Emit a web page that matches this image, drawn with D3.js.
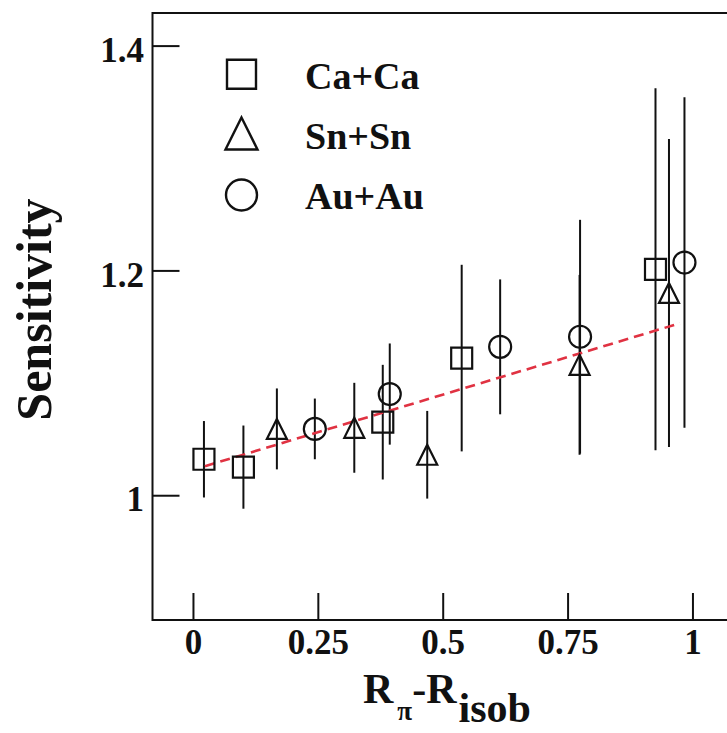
<!DOCTYPE html>
<html>
<head>
<meta charset="utf-8">
<script src="https://cdn.jsdelivr.net/npm/d3@7"></script>
<style>
  html, body { margin: 0; padding: 0; background: #fff; }
  svg { display: block; }
  text { font-family: "Liberation Serif", "Times New Roman", serif; font-weight: bold; fill: #111; }
</style>
</head>
<body>
<svg id="chart" width="727" height="733"></svg>
<script>
// Sensitivity vs R_pi - R_isob for three systems
const caX   = [0.022, 0.101, 0.380, 0.538, 0.926];
const caY   = [1.032, 1.025, 1.065, 1.122, 1.201];
const caErr = [0.034, 0.037, 0.051, 0.083, 0.161];

const snX   = [0.168, 0.323, 0.469, 0.774, 0.953];
const snY   = [1.059, 1.060, 1.036, 1.116, 1.180];
const snErr = [0.036, 0.040, 0.039, 0.080, 0.137];

const auX   = [0.244, 0.394, 0.615, 0.775, 0.984];
const auY   = [1.059, 1.090, 1.132, 1.141, 1.207];
const auErr = [0.027, 0.045, 0.060, 0.104, 0.147];

// linear fit (red dashed)
const fitX = [0.024, 0.975];
const fitY = [1.0258, 1.153];

const xTicks = [0, 0.25, 0.5, 0.75, 1];
const xTickLabels = ["0", "0.25", "0.5", "0.75", "1"];
const yTicks = [1, 1.2, 1.4];
const yTickLabels = ["1", "1.2", "1.4"];

const seriesNames = ["Ca+Ca", "Sn+Sn", "Au+Au"];
const seriesShapes = ["square", "triangle", "circle"];

const svg = d3.select("#chart");

const x = d3.scaleLinear().domain([-0.081, 1.11]).range([152.5, 747.4]);
const y = d3.scaleLinear().domain([0.889, 1.429]).range([620, 13]);

// frame
svg.append("rect")
  .attr("x", x.range()[0]).attr("y", y.range()[1])
  .attr("width", x.range()[1] - x.range()[0])
  .attr("height", y.range()[0] - y.range()[1])
  .attr("fill", "none").attr("stroke", "#111").attr("stroke-width", 2);

// axes with inward ticks
const xAxis = d3.axisBottom(x).tickValues(xTicks)
  .tickFormat((d, i) => xTickLabels[i]).tickSize(-27).tickPadding(9);
const gx = svg.append("g").attr("transform", `translate(0,${y.range()[0]})`).call(xAxis);
gx.select(".domain").remove();
gx.selectAll(".tick line").attr("stroke", "#111").attr("stroke-width", 2);
gx.selectAll(".tick text").attr("font-size", 35).attr("fill", "#111")
  .attr("font-family", "Liberation Serif, serif").attr("font-weight", "bold");

const yAxis = d3.axisLeft(y).tickValues(yTicks)
  .tickFormat((d, i) => yTickLabels[i]).tickSize(-27).tickPadding(8.5);
const gy = svg.append("g").attr("transform", `translate(${x.range()[0]},0)`).call(yAxis);
gy.select(".domain").remove();
gy.selectAll(".tick line").attr("stroke", "#111").attr("stroke-width", 2);
gy.selectAll(".tick text").attr("font-size", 35).attr("fill", "#111").attr("dy", "0.45em")
  .attr("font-family", "Liberation Serif, serif").attr("font-weight", "bold");

// axis titles
svg.append("text")
  .attr("transform", `translate(51,309.5) rotate(-90)`)
  .attr("text-anchor", "middle").attr("font-size", 50)
  .text("Sensitivity");

const xt = svg.append("text").attr("x", 363).attr("y", 703).attr("font-size", 42);
xt.append("tspan").text("R");
xt.append("tspan").attr("font-size", 27).attr("dx", 4).attr("dy", 17).text("π");
xt.append("tspan").attr("dy", -17).text("-");
xt.append("tspan").text("R");
xt.append("tspan").attr("font-size", 42).attr("dx", 2).attr("dy", 19).text("isob");

// marker shapes
function markerPath(shape, s) {
  if (shape === "square") {
    const h = s / 2;
    return `M${-h},${-h}H${h}V${h}H${-h}Z`;
  }
  if (shape === "triangle") {
    const h = s / 2;
    return `M0,${-h}L${h},${h}L${-h},${h}Z`;
  }
  const r = s / 2;
  return `M${r},0A${r},${r} 0 1,1 ${-r},0A${r},${r} 0 1,1 ${r},0Z`;
}

const series = [
  { xs: caX, ys: caY, es: caErr, shape: "square", size: 21 },
  { xs: snX, ys: snY, es: snErr, shape: "triangle", size: 20 },
  { xs: auX, ys: auY, es: auErr, shape: "circle", size: 22 }
];

// error bars
series.forEach(s => {
  svg.append("g").selectAll("line").data(s.xs.map((v, i) => [v, s.ys[i], s.es[i]]))
    .join("line")
    .attr("x1", d => x(d[0])).attr("x2", d => x(d[0]))
    .attr("y1", d => y(d[1] + d[2])).attr("y2", d => y(d[1] - d[2]))
    .attr("stroke", "#111").attr("stroke-width", 2);
});

// fit line
svg.append("path")
  .datum(fitX.map((v, i) => [v, fitY[i]]))
  .attr("d", d3.line().x(d => x(d[0])).y(d => y(d[1])))
  .attr("fill", "none").attr("stroke", "#e03242").attr("stroke-width", 2.6)
  .attr("stroke-dasharray", "10,6");

// markers
series.forEach(s => {
  svg.append("g").selectAll("path").data(s.xs.map((v, i) => [v, s.ys[i]]))
    .join("path")
    .attr("transform", d => `translate(${x(d[0])},${y(d[1])})`)
    .attr("d", markerPath(s.shape, s.size))
    .attr("fill", "none").attr("stroke", "#111").attr("stroke-width", 2.2);
});

// legend
const legendY = [74.3, 133.5, 195];
const legendTextY = [89.3, 149.3, 209.3];
const legendSizes = [29, 32, 31];
const lg = svg.append("g");
seriesNames.forEach((name, i) => {
  lg.append("path")
    .attr("transform", `translate(241.5,${legendY[i]})`)
    .attr("d", markerPath(seriesShapes[i], legendSizes[i]))
    .attr("fill", "none").attr("stroke", "#111").attr("stroke-width", 2.4);
  lg.append("text").attr("x", 305).attr("y", legendTextY[i])
    .attr("font-size", 38).text(name);
});
</script>
</body>
</html>
